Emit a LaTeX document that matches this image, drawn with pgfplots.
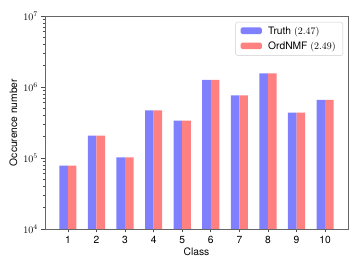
\documentclass[border=0pt]{standalone}
\usepackage{fontspec}
\setmainfont{TeX Gyre Heros}
\usepackage{pgfplots}
\pgfplotsset{compat=1.18}
\definecolor{cblue}{RGB}{128,128,255}
\definecolor{cred}{RGB}{255,128,128}
\begin{document}
\fontsize{10.3}{12}\selectfont
\begin{tikzpicture}
\path[use as bounding box] (-45bp,-43bp) rectangle (318bp,229bp);
\begin{axis}[
  at={(0,0)}, anchor=south west,
  scale only axis, width=303bp, height=213bp,
  ymode=log, ymin=1e4, ymax=1e7,
  xmin=0.2, xmax=10.8,
  xtick={1,...,10},
  xticklabels={1,2,3,4,5,6,7,8,9,10},
  ytick={1e4,1e5,1e6,1e7},
  tick align=outside,
  xtick pos=bottom, ytick pos=left,
  axis line style={black!60, line width=0.8pt},
  tick style={black!70, line width=0.6pt},
  major tick length=3.5bp, minor tick length=2bp,
  log origin=infty,
  xlabel={Class}, ylabel={Occurence number},
  xlabel style={yshift=3bp},
  ylabel style={yshift=-1bp},
  ybar, bar width=8.6bp,
  legend style={at={(1,1)}, xshift=-5bp, yshift=-6bp, anchor=north east, draw=black!20, rounded corners=1.5pt, font=\fontsize{10.3}{12}\selectfont, row sep=2pt, inner xsep=5pt, inner ysep=2.5pt},
  legend cell align=left,
  legend image code/.code={\fill[#1] (0cm,-0.1cm) rectangle (0.75cm,0.13cm); \fill[white, opacity=0] (0.75cm,-0.1cm) rectangle (0.9cm,0.13cm);},
]
\addplot[fill=cblue, draw=none, bar shift=-4.3bp] coordinates {
(1,7.8e4) (2,2.06e5) (3,1.02e5) (4,4.7e5) (5,3.35e5) (6,1.26e6) (7,7.6e5) (8,1.56e6) (9,4.35e5) (10,6.56e5)};
\addlegendentry{Truth $(2.47)$}
\addplot[fill=cred, draw=none, bar shift=4.3bp] coordinates {
(1,7.8e4) (2,2.06e5) (3,1.02e5) (4,4.7e5) (5,3.35e5) (6,1.26e6) (7,7.6e5) (8,1.56e6) (9,4.35e5) (10,6.56e5)};
\addlegendentry{OrdNMF $(2.49)$}
\end{axis}
\end{tikzpicture}
\end{document}
